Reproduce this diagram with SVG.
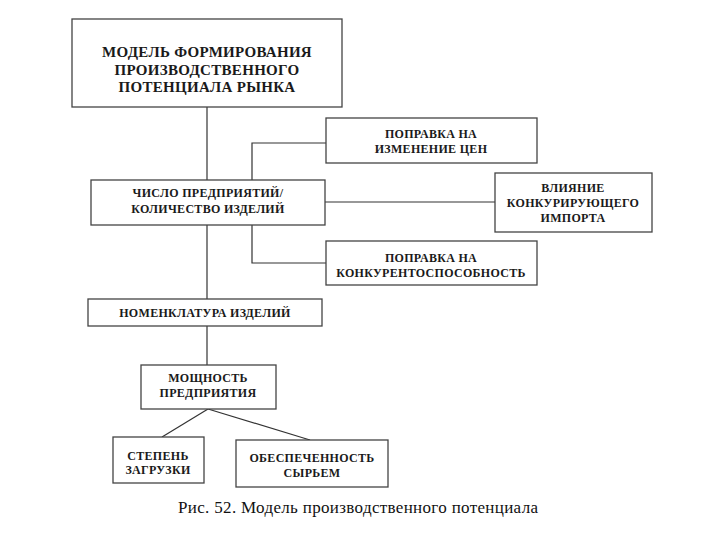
<svg xmlns="http://www.w3.org/2000/svg" width="720" height="540" viewBox="0 0 720 540">
<style>
.box{fill:#fff;stroke:#444;stroke-width:1.3}
.t{font-family:"Liberation Serif","Times New Roman",serif;font-weight:bold;font-size:12px;fill:#1a1a1a;text-anchor:middle;letter-spacing:0.3px}
.big{font-size:15px}
.conn line,.conn polyline{stroke:#333;stroke-width:1.2;fill:none}
.cap{font-family:"Liberation Serif","Times New Roman",serif;font-size:17px;fill:#111}
</style>
<rect width="720" height="540" fill="#fff"/>
<g class="conn" id="connectors">
<line x1="207" y1="107" x2="207" y2="180"/>
<line x1="207" y1="225" x2="207" y2="299"/>
<line x1="207" y1="326" x2="207" y2="365"/>
<polyline points="252,180 252,143 326,143"/>
<polyline points="252,225 252,263 326,263"/>
<line x1="325" y1="202" x2="495" y2="202"/>
<line x1="208" y1="409" x2="162" y2="437"/>
<line x1="208" y1="409" x2="310" y2="440"/>
</g>
<g id="n-model">
<rect class="box" x="72" y="19" width="270" height="88"/>
<text class="t big" x="207" y="57">МОДЕЛЬ ФОРМИРОВАНИЯ</text>
<text class="t big" x="207" y="75">ПРОИЗВОДСТВЕННОГО</text>
<text class="t big" x="207" y="92">ПОТЕНЦИАЛА РЫНКА</text>
</g>
<g id="n-prices">
<rect class="box" x="326" y="118" width="211" height="45"/>
<text class="t" x="431" y="138">ПОПРАВКА НА</text>
<text class="t" x="431" y="153">ИЗМЕНЕНИЕ ЦЕН</text>
</g>
<g id="n-number">
<rect class="box" x="91" y="180" width="234" height="45"/>
<text class="t" x="208" y="197">ЧИСЛО ПРЕДПРИЯТИЙ/</text>
<text class="t" x="208" y="213">КОЛИЧЕСТВО ИЗДЕЛИЙ</text>
</g>
<g id="n-import">
<rect class="box" x="495" y="173" width="157" height="59"/>
<text class="t" x="573" y="192">ВЛИЯНИЕ</text>
<text class="t" x="573" y="207">КОНКУРИРУЮЩЕГО</text>
<text class="t" x="573" y="222">ИМПОРТА</text>
</g>
<g id="n-compet">
<rect class="box" x="326" y="241" width="211" height="44"/>
<text class="t" x="431" y="262">ПОПРАВКА НА</text>
<text class="t" x="431" y="277">КОНКУРЕНТОСПОСОБНОСТЬ</text>
</g>
<g id="n-nomen">
<rect class="box" x="88" y="299" width="234" height="27"/>
<text class="t" x="205" y="317">НОМЕНКЛАТУРА ИЗДЕЛИЙ</text>
</g>
<g id="n-power">
<rect class="box" x="141" y="365" width="135" height="44"/>
<text class="t" x="208" y="382">МОЩНОСТЬ</text>
<text class="t" x="208" y="397">ПРЕДПРИЯТИЯ</text>
</g>
<g id="n-load">
<rect class="box" x="113" y="437" width="91" height="46"/>
<text class="t" x="158" y="460">СТЕПЕНЬ</text>
<text class="t" x="158" y="474">ЗАГРУЗКИ</text>
</g>
<g id="n-raw">
<rect class="box" x="236" y="440" width="152" height="47"/>
<text class="t" x="312" y="462">ОБЕСПЕЧЕННОСТЬ</text>
<text class="t" x="312" y="477">СЫРЬЕМ</text>
</g>
<text class="cap" x="178" y="513" textLength="360" lengthAdjust="spacing">Рис. 52. Модель производственного потенциала</text>
</svg>
